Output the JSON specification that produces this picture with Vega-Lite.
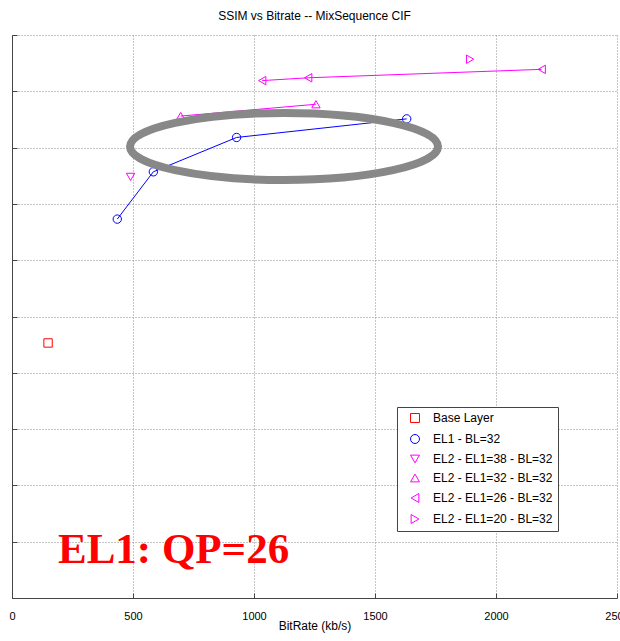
{
  "$schema": "https://vega.github.io/schema/vega-lite/v6.json",
  "width": 605,
  "height": 563,
  "autosize": {"type": "none"},
  "padding": {"left": 12, "top": 35, "right": 3, "bottom": 43},
  "background": "white",
  "title": {"text": "SSIM vs Bitrate -- MixSequence CIF", "font": "Liberation Sans", "fontSize": 12, "fontWeight": "normal", "color": "#000000", "anchor": "middle", "frame": "group", "offset": 12},
  "config": {
    "view": {"stroke": null},
    "axis": {"grid": true, "gridColor": "#8c8c8c", "gridDash": [1, 2], "gridWidth": 1, "domainColor": "#444444", "tickColor": "#444444", "tickSize": -5, "labelFont": "Liberation Sans", "labelFontSize": 11, "labelColor": "#000000", "titleFont": "Liberation Sans", "titleFontSize": 12, "titleFontWeight": "normal", "titleColor": "#000000"},
    "legend": {"orient": "none", "legendX": 385, "legendY": 372, "strokeColor": "#444444", "fillColor": "#ffffff", "padding": 5, "labelFont": "Liberation Sans", "labelFontSize": 12, "labelColor": "#000000", "symbolSize": 80, "symbolOffset": 7, "rowPadding": 7, "labelOffset": 12, "symbolStrokeWidth": 1, "symbolFillColor": "transparent", "cornerRadius": 0}
  },
  "datasets": {
    "series": [
      {"series": "Base Layer", "bitrate": 149, "ssim": 0.9453},
      {"series": "EL1 - BL=32", "bitrate": 435, "ssim": 0.9673},
      {"series": "EL1 - BL=32", "bitrate": 584, "ssim": 0.9757},
      {"series": "EL1 - BL=32", "bitrate": 928, "ssim": 0.9818},
      {"series": "EL1 - BL=32", "bitrate": 1631, "ssim": 0.9851},
      {"series": "EL2 - EL1=38 - BL=32", "bitrate": 490, "ssim": 0.9748},
      {"series": "EL2 - EL1=32 - BL=32", "bitrate": 697, "ssim": 0.9856},
      {"series": "EL2 - EL1=32 - BL=32", "bitrate": 1256, "ssim": 0.9877},
      {"series": "EL2 - EL1=26 - BL=32", "bitrate": 1034, "ssim": 0.9919},
      {"series": "EL2 - EL1=26 - BL=32", "bitrate": 1224, "ssim": 0.9924},
      {"series": "EL2 - EL1=26 - BL=32", "bitrate": 2189, "ssim": 0.9939},
      {"series": "EL2 - EL1=20 - BL=32", "bitrate": 1893, "ssim": 0.9957}
    ],
    "highlight": [{"bitrate": 1124, "ssim": 0.9802}],
    "note": [{"bitrate": 190, "ssim": 0.9062, "label": "EL1: QP=26"}]
  },
  "layer": [
    {
      "data": {"name": "series"},
      "mark": {"type": "line", "strokeWidth": 1},
      "encoding": {
        "x": {"field": "bitrate", "type": "quantitative", "scale": {"domain": [0, 2500], "nice": false, "zero": false}, "axis": {"values": [0, 500, 1000, 1500, 2000, 2500], "format": "d", "title": "BitRate (kb/s)", "labelPadding": 17, "titleY": 22, "titleBaseline": "top", "labelFlush": false, "labelOverlap": false, "labelBound": false}},
        "y": {"field": "ssim", "type": "quantitative", "scale": {"domain": [0.9, 1.0], "nice": false, "zero": false}, "axis": {"values": [0.9, 0.91, 0.92, 0.93, 0.94, 0.95, 0.96, 0.97, 0.98, 0.99, 1.0], "labels": false, "title": null}},
        "color": {"field": "series", "type": "nominal", "scale": {"domain": ["Base Layer", "EL1 - BL=32", "EL2 - EL1=38 - BL=32", "EL2 - EL1=32 - BL=32", "EL2 - EL1=26 - BL=32", "EL2 - EL1=20 - BL=32"], "range": ["#ff0000", "#0000ff", "#ff00ff", "#ff00ff", "#ff00ff", "#ff00ff"]}, "legend": {"title": null}}
      }
    },
    {
      "data": {"name": "series"},
      "mark": {"type": "point", "filled": false, "opacity": 1, "strokeWidth": 1},
      "encoding": {
        "x": {"field": "bitrate", "type": "quantitative"},
        "y": {"field": "ssim", "type": "quantitative"},
        "color": {"field": "series", "type": "nominal", "legend": {"title": null}},
        "shape": {"field": "series", "type": "nominal", "scale": {"domain": ["Base Layer", "EL1 - BL=32", "EL2 - EL1=38 - BL=32", "EL2 - EL1=32 - BL=32", "EL2 - EL1=26 - BL=32", "EL2 - EL1=20 - BL=32"], "range": ["square", "circle", "triangle-down", "triangle-up", "triangle-left", "triangle-right"]}, "legend": {"title": null}},
        "size": {"value": 70}
      }
    },
    {
      "data": {"name": "highlight"},
      "mark": {"type": "point", "filled": false, "opacity": 1, "shape": "M-1,0A1,0.2175,0,1,0,1,0A1,0.2175,0,1,0,-1,0Z", "size": 94864, "stroke": "#888888", "strokeWidth": 8},
      "encoding": {
        "x": {"field": "bitrate", "type": "quantitative"},
        "y": {"field": "ssim", "type": "quantitative"}
      }
    },
    {
      "data": {"name": "note"},
      "mark": {"type": "text", "font": "Liberation Serif", "fontWeight": "bold", "fontSize": 43, "color": "#ff0000", "align": "left", "baseline": "alphabetic"},
      "encoding": {
        "x": {"field": "bitrate", "type": "quantitative"},
        "y": {"field": "ssim", "type": "quantitative"},
        "text": {"field": "label"}
      }
    }
  ]
}
